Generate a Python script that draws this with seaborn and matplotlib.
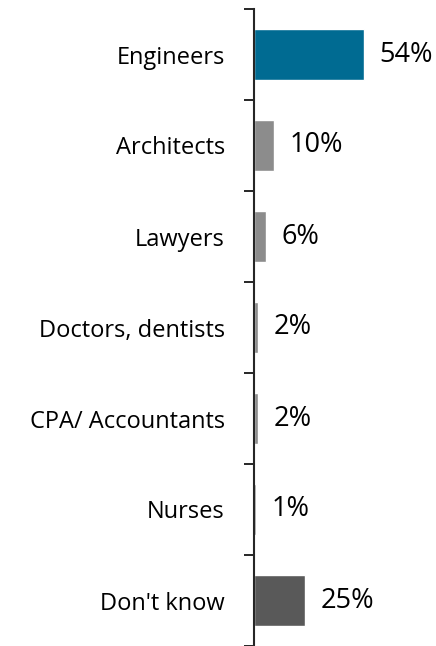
import matplotlib
matplotlib.use("Agg")
import matplotlib.pyplot as plt
import seaborn as sns
import pandas as pd
import numpy as np

categories = ["Engineers", "Architects", "Lawyers", "Doctors, dentists",
              "CPA/ Accountants", "Nurses", "Don't know"]
values = [54, 10, 6, 2, 2, 1, 25]
colors = ["#006B92", "#8C8C8C", "#8C8C8C", "#8C8C8C", "#8C8C8C", "#8C8C8C", "#595959"]

sns.set_style("white")
plt.rcParams['font.family'] = ['Open Sans', 'DejaVu Sans']

df = pd.DataFrame({"cat": categories, "val": values})

fig = plt.figure(figsize=(4.36, 6.46), dpi=100)
ax = fig.add_axes([254/436, 0, 182/436, 637/646])

sns.barplot(data=df, y="cat", x="val", hue="cat", palette=colors,
            order=categories, hue_order=categories, legend=False,
            width=0.56, ax=ax, saturation=1, orient="h")

ax.set_xlim(0, 89)
ax.set_ylim(6.5, -0.5)
ax.set_xlabel("")
ax.set_ylabel("")
ax.set_xticks([])

for s in ["top", "right", "bottom"]:
    ax.spines[s].set_visible(False)
ax.spines["left"].set_color("#262626")
ax.spines["left"].set_linewidth(1.5)
ax.spines["left"].set_clip_on(False)

ax.set_yticks(range(len(categories)))
ax.set_yticklabels(categories, fontsize=17, color="#000000")
ax.tick_params(axis="y", which="major", left=True, length=0, pad=21)
ax.set_yticks(np.arange(-0.5, len(categories), 1.0), minor=True)
ax.tick_params(axis="y", which="minor", left=True, length=7, width=1.4, color="#262626")

for i, v in enumerate(values):
    ax.annotate(f"{v}%", xy=(v, i), xytext=(11, 0), textcoords="offset points",
                va="center", ha="left", fontsize=19.5, color="#000000")

fig.savefig("out.png", dpi=100)
